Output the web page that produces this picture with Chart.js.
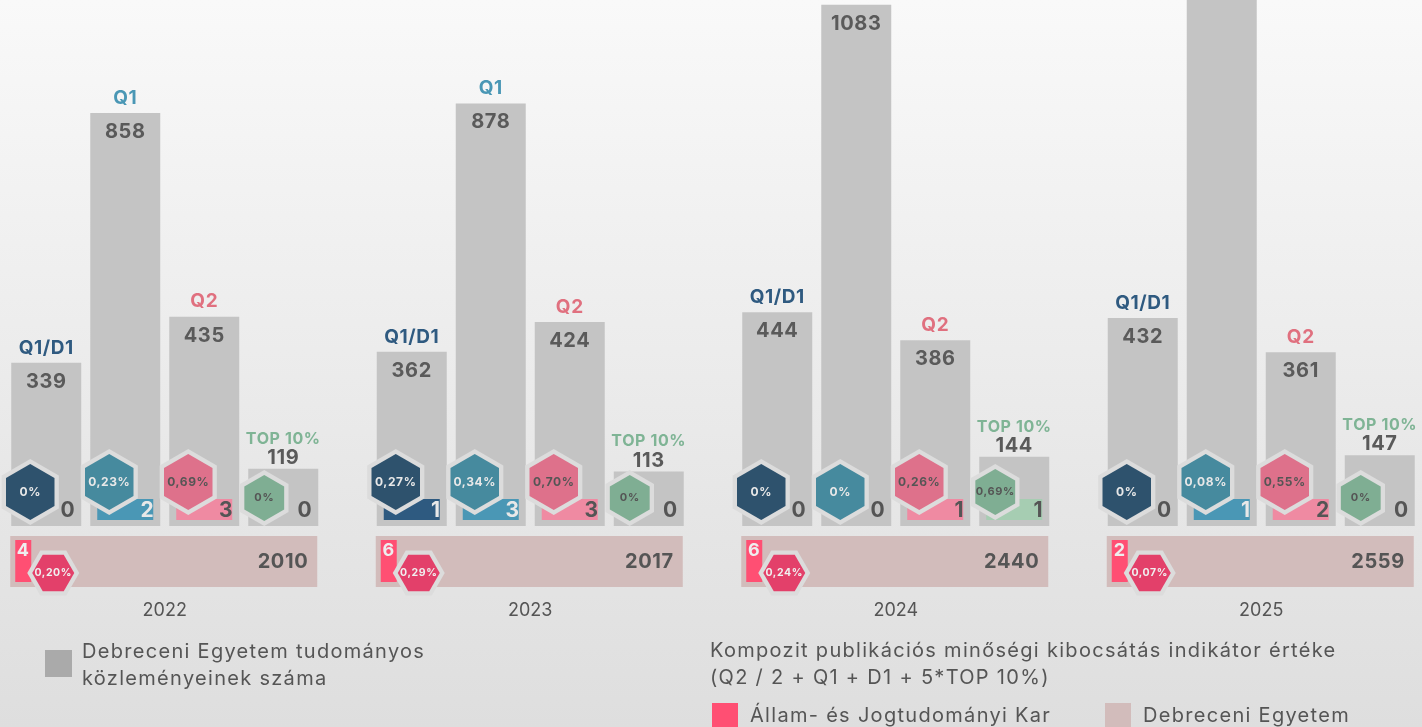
<!DOCTYPE html>
<html>
<head>
<meta charset="utf-8">
<script src="https://cdn.jsdelivr.net/npm/chart.js@4.4.1/dist/chart.umd.min.js"></script>
<style>
html, body { margin: 0; padding: 0; }
body {
    width: 1422px; height: 727px; overflow: hidden; position: relative;
    background: linear-gradient(#f9f9f9, #dedede);
    font-family: Inter, 'Noto Sans', sans-serif; color: #555;
}
#wrap { position: absolute; left: -18px; top: 0; width: 1462px; height: 640px; }
.sq { position: absolute; }
.txt { position: absolute; font-size: 20px; line-height: 27px; letter-spacing: 1.3px; white-space: nowrap; }
</style>
</head>
<body>
<div id="wrap"><canvas id="chart" width="1462" height="640"></canvas></div>

<div class="sq" style="left:45px;top:650px;width:27px;height:27px;background:#aaaaaa"></div>
<div class="txt" style="left:82px;top:638px">Debreceni Egyetem tudományos<br>közleményeinek száma</div>

<div class="txt" style="left:710px;top:637px">Kompozit publikációs minőségi kibocsátás indikátor értéke<br>(Q2 / 2 + Q1 + D1 + 5*TOP 10%)</div>
<div class="sq" style="left:712px;top:703px;width:26px;height:24px;background:#ff4f73"></div>
<div class="txt" style="left:750px;top:702px">Állam- és Jogtudományi Kar</div>
<div class="sq" style="left:1105px;top:703px;width:26px;height:24px;background:#d2bcbb"></div>
<div class="txt" style="left:1143px;top:702px">Debreceni Egyetem</div>

<script>
// --- adatok ---
const years = ['2022', '2023', '2024', '2025'];
const seriesNames = ['Q1/D1', 'Q1', 'Q2', 'TOP 10%'];

// Debreceni Egyetem közleményei
const q1d1Total = [339, 362, 444, 432];
const q1Total = [858, 878, 1083, 1150];
const q2Total = [435, 424, 386, 361];
const top10Total = [119, 113, 144, 147];

// Állam- és Jogtudományi Kar közleményei
const q1d1Kar = [0, 1, 0, 0];
const q1Kar = [2, 3, 0, 1];
const q2Kar = [3, 3, 1, 2];
const top10Kar = [0, 0, 1, 0];

// kari arány
const q1d1Pct = ['0%', '0,27%', '0%', '0%'];
const q1Pct = ['0,23%', '0,34%', '0%', '0,08%'];
const q2Pct = ['0,69%', '0,70%', '0,26%', '0,55%'];
const top10Pct = ['0%', '0%', '0,69%', '0%'];

// kompozit indikátor
const kompozitDE = [2010, 2017, 2440, 2559];
const kompozitKar = [4, 6, 6, 2];
const kompozitPct = ['0,20%', '0,29%', '0,24%', '0,07%'];

const karCounts = [q1d1Kar, q1Kar, q2Kar, top10Kar];
const karPcts = [q1d1Pct, q1Pct, q2Pct, top10Pct];

// szinek sorozatonként
const labelColors = ['#2f5a80', '#4a97b5', '#e0707f', '#7fb495'];
const hexColors = ['#2e526d', '#468a9e', '#de718b', '#7fae93'];
const insetColors = ['#2e5a80', '#4a97b5', '#ef8aa2', '#a6cdb2'];
const hexTextColors = ['#e8e8e8', '#e8e8e8', '#555555', '#555555'];
const insetTextColors = ['#e8e8e8', '#e8e8e8', '#555555', '#555555'];

const FONT = 'Inter, "Noto Sans", sans-serif';

function hexPath(ctx, cx, cy, r, pointy) {
    const off = pointy ? -Math.PI / 2 : 0;
    ctx.beginPath();
    for (let k = 0; k < 6; k++) {
        const a = off + k * Math.PI / 3;
        const px = cx + r * Math.cos(a);
        const py = cy + r * Math.sin(a);
        if (k === 0) ctx.moveTo(px, py); else ctx.lineTo(px, py);
    }
    ctx.closePath();
}

function drawHex(ctx, cx, cy, r, pointy, color, text, textColor, fontSize) {
    ctx.fillStyle = '#dcdcdc';
    hexPath(ctx, cx, cy, r + 5, pointy);
    ctx.fill();
    ctx.fillStyle = color;
    hexPath(ctx, cx, cy, r, pointy);
    ctx.fill();
    ctx.fillStyle = textColor;
    ctx.font = 'bold ' + fontSize + 'px ' + FONT;
    ctx.textAlign = 'center';
    ctx.textBaseline = 'middle';
    ctx.fillText(text, cx, cy);
}

const decorPlugin = {
    id: 'decor',
    afterDatasetsDraw(chart) {
        const ctx = chart.ctx;
        const base = chart.scales.y.getPixelForValue(0);
        ctx.save();
        ctx.letterSpacing = '0.6px';

        // kompozit sáv évenként
        const firstMeta = chart.getDatasetMeta(0);
        const lastMeta = chart.getDatasetMeta(3);
        years.forEach((y, j) => {
            const f = firstMeta.data[j];
            const l = lastMeta.data[j];
            const x0 = f.x - f.width / 2 - 1;
            const x1 = l.x + l.width / 2 - 1;
            ctx.fillStyle = '#d2bcbb';
            ctx.fillRect(x0, base + 10, x1 - x0, 51);

            ctx.fillStyle = '#555555';
            ctx.font = 'bold 20px ' + FONT;
            ctx.textAlign = 'right';
            ctx.textBaseline = 'middle';
            ctx.fillText(String(kompozitDE[j]), x1 - 9, base + 36);

            ctx.fillStyle = '#ff4f73';
            ctx.fillRect(x0 + 5, base + 14, 16, 42);
            ctx.fillStyle = '#eeeeee';
            ctx.font = 'bold 18px ' + FONT;
            ctx.textAlign = 'center';
            ctx.fillText(String(kompozitKar[j]), x0 + 13, base + 25);

            drawHex(ctx, x0 + 43, base + 47, 21, false, '#e3406a', kompozitPct[j], '#f0f0f0', 10.5);
        });

        // negyedes oszlopok díszítése
        for (let i = 0; i < 4; i++) {
            const meta = chart.getDatasetMeta(i);
            const isTop = i === 3;
            meta.data.forEach((bar, j) => {
                const left = bar.x - bar.width / 2;
                const right = bar.x + bar.width / 2;
                const top = bar.y;
                const count = karCounts[i][j];

                // felirat és érték
                ctx.textAlign = 'center';
                ctx.textBaseline = 'middle';
                ctx.fillStyle = labelColors[i];
                ctx.font = 'bold ' + (isTop ? 16 : 19) + 'px ' + FONT;
                ctx.fillText(seriesNames[i], bar.x, top - (isTop ? 30 : 15));
                ctx.fillStyle = '#5a5a5a';
                ctx.font = 'bold 20px ' + FONT;
                ctx.fillText(String(chart.data.datasets[i].data[j]), bar.x, top + (isTop ? -11 : 19));

                // kari oszlop
                if (count > 0) {
                    ctx.fillStyle = insetColors[i];
                    ctx.fillRect(left + 7, base - 27, bar.width - 14, 21);
                }

                // hatszög
                const r = isTop ? 23 : 28;
                const cx = left + (isTop ? 16 : 19);
                const cy = base - (isTop ? (count > 0 ? 34 : 28) : (count > 0 ? 44 : 34));
                drawHex(ctx, cx, cy, r, true, hexColors[i], karPcts[i][j], hexTextColors[i], isTop ? 11 : 12);

                // kari darabszám
                ctx.fillStyle = count > 0 ? insetTextColors[i] : '#555555';
                ctx.font = 'bold 21px ' + FONT;
                ctx.textAlign = 'right';
                ctx.textBaseline = 'middle';
                ctx.fillText(String(count), right - 6, base - 15);
            });
        }
        ctx.restore();
    }
};

const totals = [q1d1Total, q1Total, q2Total, top10Total];

new Chart(document.getElementById('chart'), {
    type: 'bar',
    data: {
        labels: years,
        datasets: totals.map((d, i) => ({
            label: seriesNames[i],
            data: d,
            backgroundColor: '#c4c4c4',
            categoryPercentage: 0.8646,
            barPercentage: 0.886
        }))
    },
    options: {
        responsive: false,
        devicePixelRatio: 1,
        animation: false,
        layout: { padding: 0 },
        scales: {
            y: { display: false, min: 0, max: 1093 },
            x: {
                grid: { display: false, drawTicks: false },
                border: { display: false },
                ticks: { color: '#555555', font: { family: FONT, size: 18 }, padding: 74 },
                afterFit: (scale) => { scale.height = 114; }
            }
        },
        plugins: {
            legend: { display: false },
            tooltip: { enabled: false }
        }
    },
    plugins: [decorPlugin]
});
</script>
</body>
</html>
